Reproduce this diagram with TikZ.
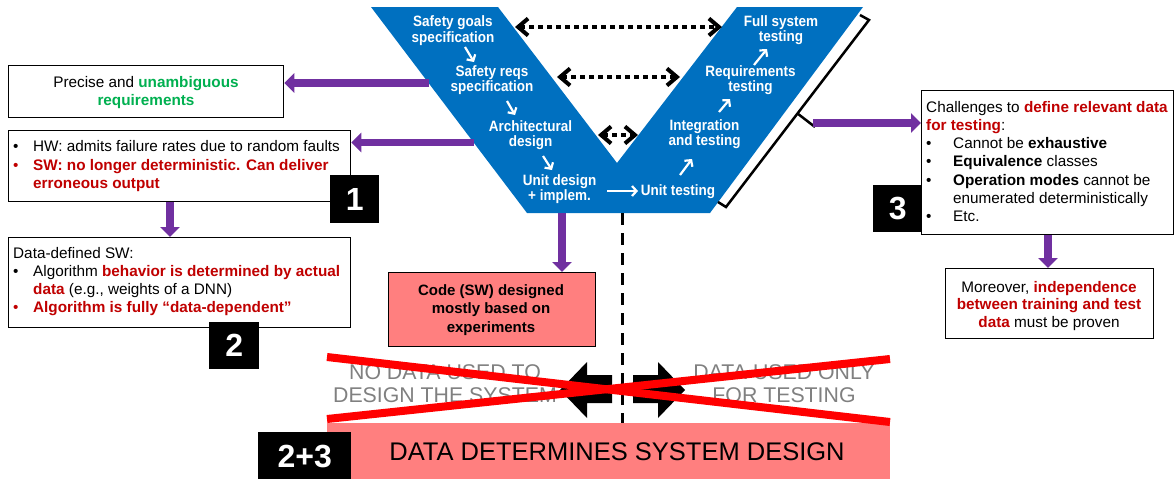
\documentclass[tikz,border=0pt]{standalone}
\usepackage{fontspec}
\setmainfont{Liberation Sans}
\newfontfamily\vfont[FakeStretch=0.9]{Liberation Sans}
\usetikzlibrary{arrows.meta}
\definecolor{vblue}{HTML}{0070C0}
\definecolor{vpurple}{HTML}{7030A0}
\definecolor{dred}{HTML}{C00000}
\definecolor{vgreen}{HTML}{00B050}
\definecolor{salmon}{HTML}{FF7F7F}
\definecolor{gtext}{HTML}{808080}
\definecolor{xred}{HTML}{FF0000}
\newcommand\bul[1][black]{\textcolor{#1}{\textbullet}}
\newcommand\rb[1]{\textcolor{dred}{\bfseries #1}}
\begin{document}
\begin{tikzpicture}[x=1pt, y=-1pt,
  frame/.style={draw=black, line width=1.3pt, fill=white, inner sep=0pt, anchor=north west},
  numbox/.style={fill=black, text=white, inner sep=0pt, anchor=north west,
    font=\fontsize{32}{32}\selectfont\bfseries},
  vtext/.style={text=white, inner sep=0pt, anchor=base,
    font=\vfont\fontsize{15}{15.7}\selectfont\bfseries},
  btext/.style={inner sep=0pt, font=\fontsize{15.3}{18.3}\selectfont},
  gtxt/.style={inner sep=0pt, anchor=base, text=gtext, font=\fontsize{21.3}{22.5}\selectfont},
  parrow/.style={draw=vpurple, line width=7.5pt, -{Triangle[length=10pt,width=19pt]}},
  darrow/.style={draw=black, line width=4pt, dash pattern=on 4.5pt off 4.5pt,
    {Straight Barb[length=10pt,width=17pt]}-{Straight Barb[length=10pt,width=17pt]}},
  warrow/.style={draw=white, line width=2.2pt, -{Straight Barb[length=4.5pt,width=10pt]}},
  redx/.style={draw=xred, line width=8pt},
  blockarrow/.style={fill=black}]
\useasboundingbox (0,0) rectangle (1176,479);

% ---------- V model ----------
\fill[vblue] (371,7) -- (498,7) -- (617,163) -- (737,7) -- (863,7) -- (710,213) -- (527,213) -- cycle;

\node[vtext] (sg) at (453,26.7) {\begin{tabular}[t]{@{}c@{}}Safety goals\\specification\end{tabular}};
\node[vtext] (sr) at (492,76) {\begin{tabular}[t]{@{}c@{}}Safety reqs\\specification\end{tabular}};
\node[vtext] (ad) at (530.5,131) {\begin{tabular}[t]{@{}c@{}}Architectural\\design\end{tabular}};
\node[vtext] (ud) at (559.5,185) {\begin{tabular}[t]{@{}c@{}}Unit design\\+ implem.\end{tabular}};
\node[vtext] (ut) at (678,195) {Unit testing};
\node[vtext] (it) at (704.5,130) {\begin{tabular}[t]{@{}c@{}}Integration\\and testing\end{tabular}};
\node[vtext] (rt) at (750.5,76) {\begin{tabular}[t]{@{}c@{}}Requirements\\testing\end{tabular}};
\node[vtext] (fs) at (781,26) {\begin{tabular}[t]{@{}c@{}}Full system\\testing\end{tabular}};

% small flow arrows inside the V
\coordinate (a1s) at (465,47);  \coordinate (a1e) at (474,62);
\coordinate (a2s) at (507,101); \coordinate (a2e) at (515,115);
\coordinate (a3s) at (543,156); \coordinate (a3e) at (552,170);
\coordinate (a4s) at (607,191); \coordinate (a4e) at (638,191);
\coordinate (a5s) at (680,175); \coordinate (a5e) at (692,159);
\coordinate (a6s) at (719,112); \coordinate (a6e) at (730,99);
\coordinate (a7s) at (754,65);  \coordinate (a7e) at (767,49);
\foreach \i in {1,...,7} \draw[warrow] (a\i s) -- (a\i e);

% verification links across the V
\coordinate (d1a) at (515,27);  \coordinate (d1b) at (722,27);
\coordinate (d2a) at (557,77);  \coordinate (d2b) at (680,77);
\coordinate (d3a) at (598,135); \coordinate (d3b) at (638,135);
\draw[darrow] (d1a) -- (d1b);
\draw[darrow] (d2a) -- (d2b);
\draw[darrow] (d3a) -- (d3b);

% bracket along the right arm
\coordinate (bmid) at (797.5,113.5);
\coordinate (btip) at (815,127);
\draw[line width=2.5pt, line join=miter] (860,15) -- (869,20) -- (726,207) -- (718,202);
\draw[line width=2.5pt] (bmid) -- (btip);

% ---------- left column ----------
\node[frame, minimum width=275pt, minimum height=52pt] (pbox) at (8,65) {};
\node[btext, anchor=base] (ptxt) at (146,87) {\begin{tabular}[t]{@{}c@{}}Precise and \textcolor{vgreen}{\bfseries unambiguous}\\ \textcolor{vgreen}{\bfseries requirements}\end{tabular}};

\node[frame, minimum width=342pt, minimum height=71pt] (hwbox) at (8,130) {};
\node[btext, anchor=base west] (hwtxt) at (13,151.7) {\begin{tabular}[t]{@{}l@{}l@{}}
\makebox[20pt][l]{\bul} & HW: admits failure rates due to random faults\\
\makebox[20pt][l]{\bul[dred]} & \rb{SW: no longer deterministic. Can deliver}\\
 & \rb{erroneous output}
\end{tabular}};
\node[numbox, minimum width=49pt, minimum height=48pt] (n1) at (330,175) {1};

\node[frame, minimum width=342pt, minimum height=90pt] (dbox) at (8,237) {};
\node[btext, anchor=base west] (dtxt) at (13,258) {\begin{tabular}[t]{@{}l@{}l@{}}
\multicolumn{2}{@{}l@{}}{Data-defined SW:}\\
\makebox[20pt][l]{\bul} & Algorithm \rb{behavior is determined by actual}\\
 & \rb{data} (e.g., weights of a DNN)\\
\makebox[20pt][l]{\bul[dred]} & \rb{Algorithm is fully “data-dependent”}
\end{tabular}};
\node[numbox, minimum width=50pt, minimum height=47pt] (n2) at (209,322) {2};

% ---------- centre ----------
\node[frame, fill=salmon, minimum width=207pt, minimum height=74pt] (cbox) at (388,272) {};
\node[inner sep=0pt, anchor=base, font=\fontsize{15}{18.5}\selectfont\bfseries] (ctxt) at (491,295)
  {\begin{tabular}[t]{@{}c@{}}Code (SW) designed\\mostly based on\\experiments\end{tabular}};

\coordinate (vbot) at (622,213);
\node[fill=salmon, inner sep=0pt, anchor=north west, minimum width=563pt, minimum height=57pt] (redbox) at (327,423) {};
\draw[line width=3pt, dash pattern=on 12pt off 8pt] (vbot) -- (vbot |- redbox.north);

\node[gtxt] (nodata) at (445,379.5) {\begin{tabular}[t]{@{}c@{}}NO DATA USED TO\\DESIGN THE SYSTEM\end{tabular}};
\node[gtxt] (testdata) at (784,379.5) {\begin{tabular}[t]{@{}c@{}}DATA USED ONLY\\FOR TESTING\end{tabular}};

% opposite block arrows either side of the divide
\fill[blockarrow] (560,390) -- (587,362) -- (587,375) -- (612,375) -- (612,403) -- (587,403) -- (587,418) -- cycle;
\fill[blockarrow] (685,390) -- (658,362) -- (658,375) -- (633,375) -- (633,403) -- (658,403) -- (658,418) -- cycle;

% crossing-out lines
\draw[redx] (327,357) -- (890,422);
\draw[redx] (327,419) -- (890,359);

\node[inner sep=0pt, anchor=base, font=\fontsize{25.5}{25.5}\selectfont] (design) at (617,460.7) {DATA DETERMINES SYSTEM DESIGN};
\node[numbox, minimum width=93pt, minimum height=48pt] (n23) at (258,432) {2+3};

% ---------- right column ----------
\node[frame, minimum width=252pt, minimum height=144pt] (box3) at (921,90) {};
\node[btext, anchor=base west] (t3) at (926,112) {\begin{tabular}[t]{@{}l@{}l@{}}
\multicolumn{2}{@{}l@{}}{Challenges to \rb{define relevant data}}\\
\multicolumn{2}{@{}l@{}}{\rb{for testing}:}\\
\makebox[27pt][l]{\bul} & Cannot be \textbf{exhaustive}\\
\makebox[27pt][l]{\bul} & \textbf{Equivalence} classes\\
\makebox[27pt][l]{\bul} & \textbf{Operation modes} cannot be\\
 & enumerated deterministically\\
\makebox[27pt][l]{\bul} & Etc.
\end{tabular}};
\node[numbox, minimum width=49pt, minimum height=47pt] (n3) at (873,185) {3};

\node[frame, minimum width=208pt, minimum height=70pt] (mbox) at (945,268) {};
\node[inner sep=0pt, anchor=base, font=\fontsize{15.3}{17.6}\selectfont] (mtxt) at (1049,292)
  {\begin{tabular}[t]{@{}c@{}}Moreover, \rb{independence}\\ \rb{between training and test}\\ \rb{data} must be proven\end{tabular}};

% ---------- purple links ----------
\coordinate (p1) at (429,83);
\coordinate (p2) at (474,142.5);
\coordinate (p3) at (813,123);
\draw[parrow] (p1) -- (p1 -| pbox.east);
\draw[parrow] (p2) -- (p2 -| hwbox.east);
\draw[parrow] (hwbox.south -| 170,0) -- (dbox.north -| 170,0);
\draw[parrow] (562,213) -- (cbox.north -| 562,0);
\draw[parrow] (p3) -- (p3 -| box3.west);
\draw[parrow] (box3.south -| 1048,0) -- (mbox.north -| 1048,0);
\end{tikzpicture}
\end{document}
